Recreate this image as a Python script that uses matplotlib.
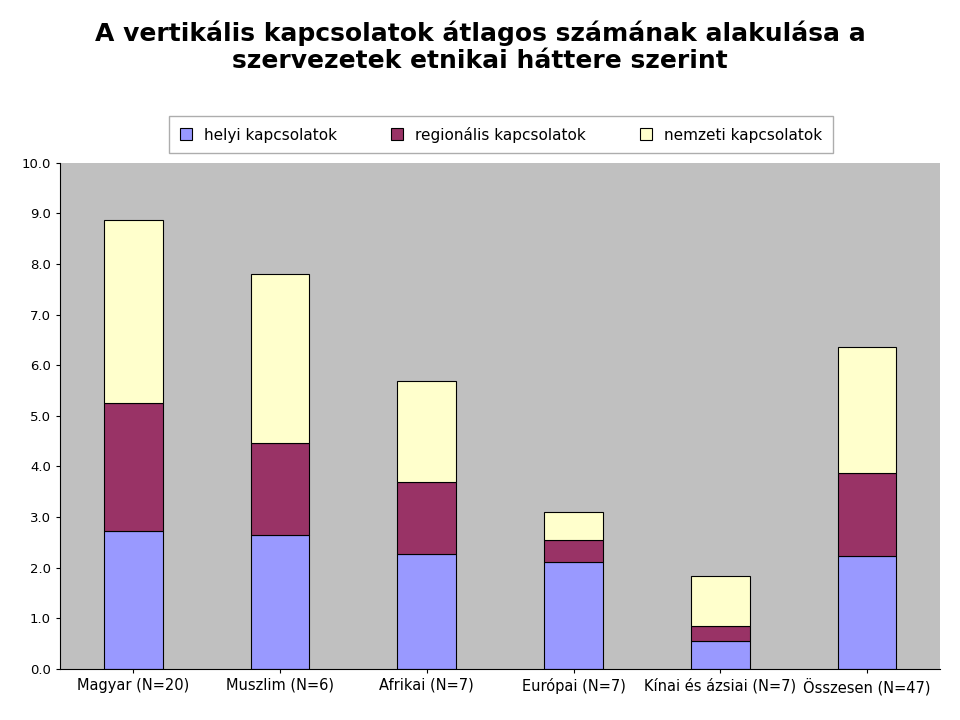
import matplotlib
matplotlib.use('Agg')
import matplotlib.pyplot as plt
import numpy as np

# Data (cumulative tops converted to segments)
categories = ['Magyar (N=20)', 'Muszlim (N=6)', 'Afrikai (N=7)',
              'Európai (N=7)', 'Kínai és ázsiai (N=7)', 'Összesen (N=47)']
helyi = [2.73, 2.65, 2.27, 2.11, 0.55, 2.23]
regionalis = [2.53, 1.82, 1.43, 0.44, 0.30, 1.64]
nemzeti = [3.61, 3.34, 1.99, 0.55, 0.99, 2.49]
series_names = ['helyi kapcsolatok', 'regionális kapcsolatok', 'nemzeti kapcsolatok']
colors = ['#9999FF', '#993366', '#FFFFCC']

fig = plt.figure(figsize=(9.6, 7.2), dpi=100)
ax = fig.add_axes([0.0625, 0.071, 0.917, 0.703])
ax.set_facecolor('#C0C0C0')

x = np.arange(len(categories))
bottom = np.zeros(len(categories))
for vals, name, c in zip([helyi, regionalis, nemzeti], series_names, colors):
    ax.bar(x, vals, 0.4, bottom=bottom, color=c, edgecolor='black',
           linewidth=0.8, label=name)
    bottom += np.array(vals)

ax.set_xlim(-0.5, len(categories) - 0.5)
ax.set_ylim(0, 10)
ax.set_yticks(np.arange(0, 10.1, 1))
ax.set_yticklabels([f'{v:.1f}' for v in np.arange(0, 10.1, 1)], fontsize=9.5)
ax.set_xticks(x)
ax.set_xticklabels(categories, fontsize=10.5)
ax.tick_params(axis='both', length=3)
for s in ['top', 'right']:
    ax.spines[s].set_visible(False)

fig.text(0.5, 0.935, 'A vertikális kapcsolatok átlagos számának alakulása a\nszervezetek etnikai háttere szerint',
         ha='center', va='center', fontsize=18, fontweight='bold', linespacing=1.2)

leg = fig.legend(loc='center', bbox_to_anchor=(0.522, 0.813), ncol=3,
                 fontsize=11, frameon=True, fancybox=False, edgecolor='#999999',
                 handlelength=0.8, handleheight=0.8, columnspacing=3.5,
                 borderpad=0.7)

fig.savefig('out.png', dpi=100)
